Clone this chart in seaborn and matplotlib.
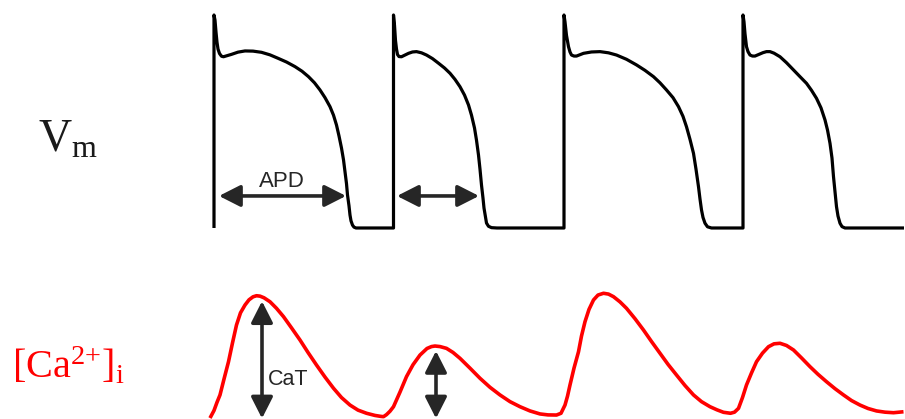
import matplotlib
matplotlib.use("Agg")
import matplotlib.pyplot as plt
import seaborn as sns
import pandas as pd

# Membrane potential (ms, mV): four beats alternating long / short APD
vm_t = [0, 0, 2, 4, 6, 8, 11, 15, 19, 25, 35, 48, 62, 78, 95, 112, 128, 145, 162, 176, 189, 201, 212,
        222, 232, 239, 245, 250, 255, 259, 262, 265, 267, 270, 272, 274, 277, 280, 284, 289,
        359, 359, 361, 363, 365, 367, 370, 375, 382, 389, 397, 405, 415, 425, 437, 449, 461, 472, 482,
        492, 501, 509, 515, 521, 525, 529, 532, 535, 538, 540, 543, 545, 549, 555, 566,
        700, 700, 702, 705, 709, 712, 715, 720, 725, 732, 739, 755, 772, 789, 805, 825, 845, 862, 879,
        892, 905, 918, 929, 938, 945, 952, 959, 964, 969, 972, 975, 978, 982, 987, 995,
        1058, 1058, 1060, 1062, 1065, 1068, 1072, 1077, 1082, 1090, 1098, 1105, 1112, 1120, 1132, 1145,
        1159, 1172, 1185, 1195, 1205, 1214, 1222, 1227, 1232, 1236, 1239, 1242, 1245, 1248, 1252, 1256,
        1262, 1380]
vm_mv = [-85, 40, 37, 30, 24, 20, 17.4, 15.8, 15.5, 16.0, 16.9, 18.2, 18.9, 18.8, 18.1, 16.6, 14.6, 12.4, 9.7, 7.0, 3.8, 0.2, -4.0,
         -8.5, -13.8, -18.8, -24.6, -31.0, -38.1, -45.0, -52.0, -59.0, -65.6, -72.0, -77.4, -80.8, -83.3, -84.5, -85, -85,
         -85, 40, 34, 25, 20, 16.8, 15.6, 15.5, 16.5, 17.5, 18.3, 18.5, 17.8, 16.5, 14.4, 11.7, 8.9, 5.8, 2.2,
         -2.1, -7.0, -12.8, -18.8, -26.3, -33.5, -42.2, -50.5, -59.8, -67.5, -73.3, -78.5, -82.1, -84.0, -84.8, -85,
         -85, 40, 36, 28, 21.4, 18.3, 16.5, 15.9, 15.9, 16.7, 17.5, 18.3, 18.5, 17.8, 16.5, 14.0, 10.7, 7.5, 3.8,
         0.2, -4.0, -8.5, -13.8, -19.5, -25.6, -33.0, -41.2, -50.5, -60.8, -68.0, -74.4, -78.8, -82.2, -84.3, -85,
         -85, 40, 36, 29, 21.4, 18.5, 16.5, 15.9, 15.9, 16.9, 17.9, 18.5, 18.5, 17.6, 15.5, 12.0,
         7.7, 3.8, -0.1, -4.2, -8.9, -14.5, -21.6, -27.5, -35.3, -44.0, -54.9, -63.5, -72.5, -78.0, -82.2, -84.2,
         -85, -85]

# Intracellular calcium (ms, uM): alternating large / small transients
ca_t = [-8, 0, 6, 12, 20, 29, 37, 45, 53, 62, 70, 78, 85, 92, 100, 112, 125, 139, 155, 172, 188, 205,
        222, 239, 255, 272, 288, 305, 322, 334, 339,
        345, 352, 359, 372, 385, 398, 412, 426, 435, 442, 452, 465, 478, 492, 512, 532, 552, 572, 592,
        612, 632, 652, 668, 685, 694,
        702, 707, 712, 720, 729, 735, 742, 750, 759, 768, 779, 789, 799, 812, 825, 842, 859, 875, 892,
        908, 925, 942, 959, 975, 992, 1006, 1019, 1033, 1041,
        1049, 1057, 1065, 1075, 1085, 1097, 1109, 1120, 1132, 1145, 1159, 1175, 1192, 1208, 1225, 1242,
        1259, 1275, 1292, 1308, 1325, 1342, 1359, 1379]
ca_um = [0.085, 0.14, 0.20, 0.254, 0.37, 0.497, 0.635, 0.766, 0.855, 0.912, 0.950, 0.972, 0.980, 0.977, 0.965, 0.936,
         0.888, 0.827, 0.745, 0.656, 0.565, 0.473, 0.385, 0.303, 0.235, 0.180, 0.143, 0.120, 0.104, 0.097, 0.095,
         0.110, 0.135, 0.168, 0.275, 0.388, 0.475, 0.546, 0.594, 0.608, 0.612, 0.608, 0.595, 0.565, 0.522, 0.450,
         0.376, 0.310, 0.254, 0.205, 0.168, 0.137, 0.115, 0.108, 0.107, 0.120,
         0.180, 0.245, 0.327, 0.450, 0.570, 0.685, 0.790, 0.880, 0.949, 0.985, 0.998, 0.992, 0.973, 0.935, 0.888,
         0.812, 0.729, 0.645, 0.559, 0.478, 0.400, 0.323, 0.254, 0.205, 0.168, 0.145, 0.127, 0.120, 0.128,
         0.156, 0.235, 0.327, 0.415, 0.497, 0.560, 0.607, 0.628, 0.632, 0.616, 0.583, 0.525, 0.461, 0.405,
         0.351, 0.300, 0.254, 0.213, 0.180, 0.155, 0.137, 0.128, 0.124, 0.131]

# APD arrows (start, end, level in mV) and CaT arrows (time, top, bottom in uM)
apd_start = [10, 366]
apd_end = [264, 530]
apd_level = -66.2
cat_time = [96, 444]
cat_top = [0.94, 0.576]
cat_bottom = 0.082

sns.set_theme(style="white")
plt.rcParams["font.family"] = ["Liberation Sans", "DejaVu Sans"]
plt.rcParams["mathtext.fontset"] = "custom"
plt.rcParams["mathtext.rm"] = "Liberation Serif"
plt.rcParams["mathtext.it"] = "Liberation Serif:italic"

fig = plt.figure(figsize=(9.05, 4.19), dpi=100)
fig.patch.set_facecolor("white")

ax_v = fig.add_axes([0, 0, 1, 1])
ax_c = fig.add_axes([0, 0, 1, 1])
for ax in (ax_v, ax_c):
    ax.set_xlim(-428, 1382)
    ax.set_axis_off()
    ax.patch.set_alpha(0)
ax_v.set_ylim(-197.1, 48.8)
ax_c.set_ylim(0.078, 3.144)

vm = pd.DataFrame({"t": vm_t, "v": vm_mv})
ca = pd.DataFrame({"t": ca_t, "c": ca_um})

sns.lineplot(data=vm, x="t", y="v", ax=ax_v, sort=False, estimator=None,
             color="black", lw=2.3, solid_joinstyle="round", solid_capstyle="butt")
sns.lineplot(data=ca, x="t", y="c", ax=ax_c, sort=False, estimator=None,
             color="#ff0000", lw=2.6, solid_joinstyle="round", solid_capstyle="butt")

arrow_kw = dict(arrowstyle="<|-|>,head_length=0.65,head_width=0.33", mutation_scale=20,
                lw=2.6, color="#262626", shrinkA=0, shrinkB=0)
for a, b in zip(apd_start, apd_end):
    ax_v.annotate("", xy=(b, apd_level), xytext=(a, apd_level), arrowprops=arrow_kw)
for t, top in zip(cat_time, cat_top):
    ax_c.annotate("", xy=(t, top), xytext=(t, cat_bottom), arrowprops=arrow_kw)

ax_v.text(135, -61.2, "APD", ha="center", va="baseline", fontsize=16, color="#262626")
ax_c.text(107, 0.327, "CaT", ha="left", va="baseline", fontsize=15.5, color="#262626")

fig.text(38 / 905, 1 - 152 / 419, r"$\mathrm{V_m}$", fontsize=33, color="#1a1a1a",
         ha="left", va="baseline")
fig.text(12 / 905, 1 - 378 / 419, r"$\mathrm{[Ca^{2{+}}]_i}$", fontsize=29, color="#ff0000",
         ha="left", va="baseline")

fig.savefig("out.png", dpi=100, facecolor="white")
